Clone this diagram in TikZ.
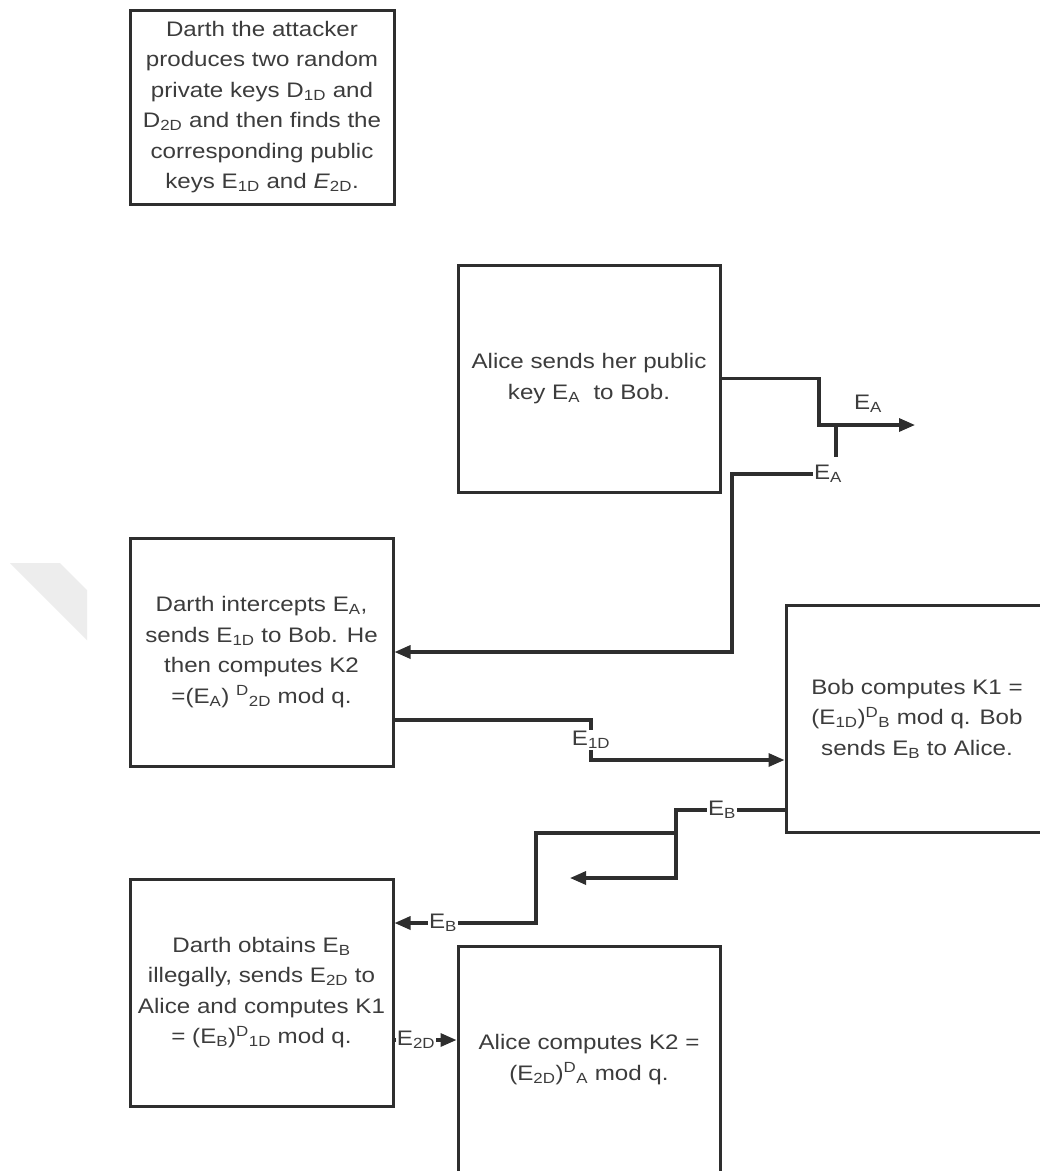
\documentclass[tikz,border=0pt]{standalone}
\usepackage{fontspec}
\setmainfont{Liberation Sans}[FakeStretch=1.15]
\usetikzlibrary{arrows.meta}
\newcommand\lo[1]{\textsubscript{#1}}
\newcommand\hi[1]{\textsuperscript{#1}}
\definecolor{ink}{HTML}{2E2E2E}
\definecolor{txt}{HTML}{3C3C3C}
\definecolor{wmark}{HTML}{EDEDED}
\begin{document}
\begin{tikzpicture}[x=1pt,y=-1pt,
  stepbox/.style={draw=ink, line width=3pt, minimum width=262pt, minimum height=227pt,
    inner sep=0pt, align=center, text=txt, font=\fontsize{21}{30.5}\selectfont},
  wire/.style={draw=ink, line width=3.2pt},
  arr/.style={wire, -{Triangle[length=16pt,width=13pt]}},
  tag/.style={inner sep=1pt, text=txt, font=\fontsize{21}{24}\selectfont}]
% page
\fill[white] (0,0) rectangle (1040,1171);
\useasboundingbox (0,0) rectangle (1040,1171);
\clip (0,0) rectangle (1040,1171);
\fill[wmark] (10,563) -- (60,563) -- (87,590) -- (87,640) -- cycle;

% steps of the attack
\node[stepbox, minimum width=264pt, minimum height=194pt] (prep) at (262,107)
  {Darth the attacker\\produces two random\\private keys D\lo{1D} and\\D\lo{2D} and then finds the\\corresponding public\\keys E\lo{1D} and \textit{E}\lo{2D}.};
\node[stepbox] (alice) at (589,378.5) {Alice sends her public\\key E\lo{A}\ \ to Bob.};
\node[stepbox, minimum width=263pt, minimum height=228pt] (intercept) at (261.5,652)
  {Darth intercepts E\lo{A},\\sends E\lo{1D} to Bob. He\\then computes K2\\=(E\lo{A}) \hi{D}\lo{2D} mod q.};
\node[stepbox] (bob) at (917,718.5) {Bob computes K1 =\\(E\lo{1D})\hi{D}\lo{B} mod q. Bob\\sends E\lo{B} to Alice.};
\node[stepbox, minimum width=263pt] (obtain) at (261.5,992.5)
  {Darth obtains E\lo{B}\\illegally, sends E\lo{2D} to\\Alice and computes K1\\= (E\lo{B})\hi{D}\lo{1D} mod q.};
\node[stepbox] (alicek) at (589,1059.5) {Alice computes K2 =\\(E\lo{2D})\hi{D}\lo{A} mod q.};

% Alice -> Bob, tapped by Darth
\coordinate (eaTurn) at (819,425);
\coordinate (eaOut) at (915,425);
\coordinate (tapTop) at (836,425);
\coordinate (tapBot) at (836,457);
\coordinate (bendA) at (732,560);
\draw[arr] (alice.east) -| (eaTurn) -- (eaOut);
\node[tag] (eaTag) at (868,404) {E\lo{A}};
\draw[wire] (tapTop) -- (tapBot);
\node[tag] (ea2) at (828,474) {E\lo{A}};
\draw[arr] (ea2.west) -| (bendA) |- (intercept.east);

% Darth -> Bob with the forged key
\node[tag] (e1d) at (591,740) {E\lo{1D}};
\draw[wire] ([yshift=-68pt]intercept.east) -| (e1d.north);
\draw[arr] (e1d.south) |- ([yshift=-41.5pt]bob.west);

% Bob -> Alice, captured by Darth
\coordinate (ebSplit) at (676,833);
\coordinate (ebStub) at (570,878);
\coordinate (ebDrop) at (536,880);
\node[tag] (eb1) at (722,810) {E\lo{B}};
\draw[wire] ([yshift=-91.5pt]bob.west) -- (eb1.east);
\draw[arr] (eb1.west) -| (ebSplit) |- (ebStub);
\node[tag] (eb2) at (443,923) {E\lo{B}};
\draw[wire] (ebSplit) -| (ebDrop) |- (eb2.east);
\draw[arr] (eb2.west) -- (eb2.west -| obtain.east);

% Darth -> Alice with the second forged key
\node[tag] (e2d) at (416,1040) {E\lo{2D}};
\draw[wire] (e2d.west -| obtain.east) -- (e2d.west);
\draw[arr] (e2d.east) -- (e2d.east -| alicek.west);
\end{tikzpicture}
\end{document}
